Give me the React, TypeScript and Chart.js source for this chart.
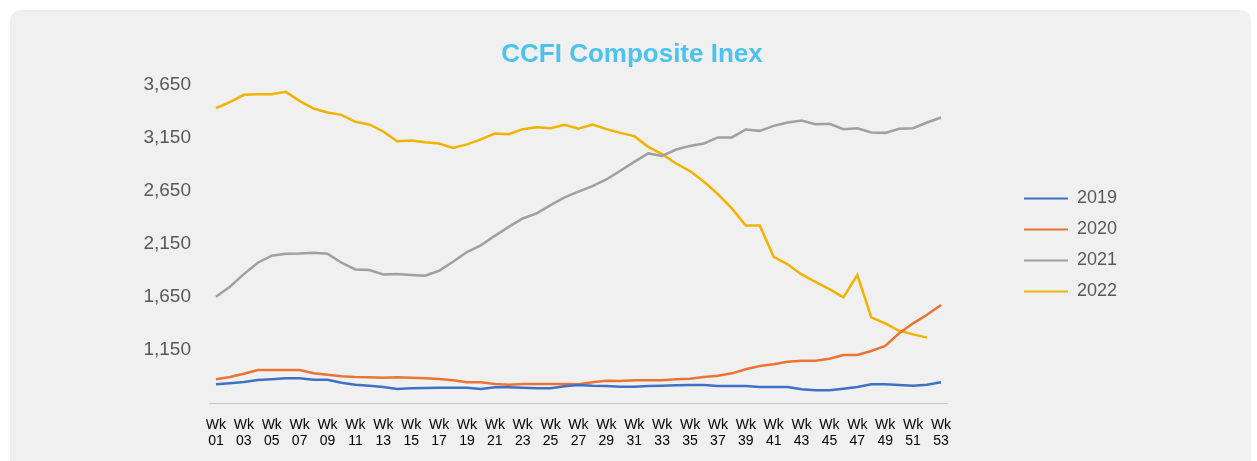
import React, { useEffect, useRef } from "react";
import { Chart, registerables } from "chart.js";

Chart.register(...registerables);

const WEEKS = [
  "Wk 01", "Wk 02", "Wk 03", "Wk 04", "Wk 05", "Wk 06", "Wk 07", "Wk 08", "Wk 09", "Wk 10",
  "Wk 11", "Wk 12", "Wk 13", "Wk 14", "Wk 15", "Wk 16", "Wk 17", "Wk 18", "Wk 19", "Wk 20",
  "Wk 21", "Wk 22", "Wk 23", "Wk 24", "Wk 25", "Wk 26", "Wk 27", "Wk 28", "Wk 29", "Wk 30",
  "Wk 31", "Wk 32", "Wk 33", "Wk 34", "Wk 35", "Wk 36", "Wk 37", "Wk 38", "Wk 39", "Wk 40",
  "Wk 41", "Wk 42", "Wk 43", "Wk 44", "Wk 45", "Wk 46", "Wk 47", "Wk 48", "Wk 49", "Wk 50",
  "Wk 51", "Wk 52", "Wk 53",
];

const Y2019 = [
  826, 836, 848, 867, 874, 883, 883, 870, 870, 842,
  823, 813, 801, 782, 789, 792, 794, 794, 794, 782,
  798, 798, 794, 789, 789, 808, 820, 813, 810, 804,
  804, 810, 813, 817, 820, 820, 810, 810, 810, 801,
  801, 801, 779, 770, 770, 785, 801, 826, 826, 820,
  813, 823, 845,
];

const Y2020 = [
  874, 895, 926, 961, 961, 961, 961, 930, 917, 902,
  895, 892, 889, 892, 889, 883, 876, 864, 845, 845,
  829, 823, 829, 829, 829, 829, 827, 845, 860, 858,
  864, 864, 864, 874, 879, 895, 908, 930, 968, 999,
  1015, 1040, 1049, 1049, 1068, 1103, 1103, 1141, 1188, 1308,
  1402, 1483, 1575,
];

const Y2021 = [
  1653, 1747, 1867, 1974, 2040, 2059, 2062, 2068, 2059, 1974,
  1911, 1905, 1864, 1867, 1858, 1851, 1898, 1983, 2075, 2138,
  2228, 2313, 2392, 2440, 2518, 2591, 2645, 2697, 2760, 2842,
  2926, 3006, 2983, 3043, 3077, 3100, 3157, 3157, 3232, 3219,
  3266, 3298, 3317, 3282, 3285, 3235, 3244, 3204, 3200, 3238,
  3244, 3298, 3345,
];

const Y2022 = [
  3433, 3490, 3559, 3565, 3565, 3587, 3502, 3430, 3392, 3370,
  3304, 3279, 3213, 3120, 3128, 3112, 3100, 3058, 3091, 3138,
  3194, 3188, 3235, 3254, 3244, 3276, 3240, 3279, 3235, 3200,
  3169, 3068, 2999, 2911, 2839, 2738, 2622, 2487, 2326, 2326,
  2030, 1959, 1864, 1794, 1725, 1647, 1858, 1458, 1402, 1332,
  1298, 1267, null,
];

const SERIES_NAMES = ["2019", "2020", "2021", "2022"];
const SERIES_COLORS = ["#3f70c6", "#ea7433", "#a0a0a0", "#f1b300"];
const Y_MIN = 650;
const Y_MAX = 3650;
const Y_STEP = 500;
const TITLE = "CCFI Composite Inex";

const FONT = "'Liberation Sans', Arial, Helvetica, sans-serif";

export default function App() {
  const ref = useRef<HTMLCanvasElement>(null);

  useEffect(() => {
    const values = [Y2019, Y2020, Y2021, Y2022];
    const chart = new Chart(ref.current as HTMLCanvasElement, {
      type: "line",
      data: {
        labels: WEEKS,
        datasets: SERIES_NAMES.map((name, i) => ({
          label: name,
          data: values[i],
          borderColor: SERIES_COLORS[i],
          backgroundColor: SERIES_COLORS[i],
          borderWidth: 2.5,
          pointRadius: 0,
          tension: 0,
          fill: false,
        })),
      },
      options: {
        responsive: false,
        animation: false,
        layout: { padding: { left: 127, right: 124, top: 0, bottom: 0 } },
        plugins: {
          title: {
            display: true,
            text: TITLE,
            color: "#4cc2ec",
            font: { family: FONT, size: 26, weight: "bold" },
            padding: { top: 29, bottom: 15 },
          },
          legend: {
            position: "right",
            align: "center",
            labels: {
              boxWidth: 44,
              boxHeight: 2,
              padding: 13,
              color: "#595959",
              font: { family: FONT, size: 18 },
              generateLabels: (c: any) =>
                (Chart.defaults as any).plugins.legend.labels
                  .generateLabels(c)
                  .map((l: any) => ({ ...l, lineWidth: 0 })),
            },
          },
          tooltip: { enabled: false },
        },
        scales: {
          x: {
            offset: true,
            grid: { display: false, drawTicks: false },
            border: { display: true, color: "#c8c8c8", width: 1 },
            ticks: {
              autoSkip: false,
              maxRotation: 0,
              minRotation: 0,
              padding: 14,
              color: "#000000",
              font: { family: FONT, size: 14, lineHeight: 16 / 14 },
              callback: (_v: any, i: number) =>
                i % 2 === 0 ? WEEKS[i].split(" ") : "",
            },
            afterFit: (s: any) => {
              s.height = 77;
            },
          },
          y: {
            min: Y_MIN,
            max: Y_MAX,
            grid: { display: false, drawTicks: false },
            border: { display: false },
            ticks: {
              stepSize: Y_STEP,
              padding: 18,
              color: "#595959",
              font: { family: FONT, size: 19 },
              callback: (v: any) =>
                v === Y_MIN ? "" : Number(v).toLocaleString("en-US"),
            },
            afterFit: (s: any) => {
              s.width = 72;
            },
          },
          pad: {
            type: "linear",
            position: "right",
            display: true,
            grid: { display: false, drawTicks: false },
            border: { display: false },
            ticks: { display: false },
            afterFit: (s: any) => {
              s.width = 63;
            },
          },
        },
      } as any,
    });
    return () => chart.destroy();
  }, []);

  return (
    <div
      style={{
        position: "absolute",
        left: 0,
        top: 0,
        width: 1257,
        height: 461,
        background: "#ffffff",
        overflow: "hidden",
      }}
    >
      <div
        style={{
          position: "absolute",
          left: 10,
          top: 10,
          width: 1241,
          height: 480,
          background: "#f0f0f0",
          borderRadius: 10,
        }}
      >
        <canvas ref={ref} width={1241} height={470} style={{ display: "block" }} />
      </div>
    </div>
  );
}
